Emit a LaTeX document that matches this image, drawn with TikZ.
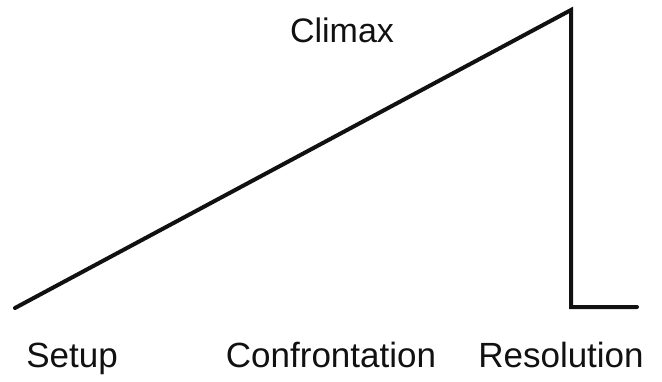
\documentclass[tikz,border=0pt]{standalone}
\usepackage{fontspec}
\setmainfont{Liberation Sans}
\usepackage{xcolor}
\definecolor{ink}{HTML}{111111}

\begin{document}
\begin{tikzpicture}[x=1pt,y=-1pt,
    arcline/.style={ink,line width=4pt,line cap=round,line join=miter},
    stage/.style={anchor=base,font=\fontsize{35}{39}\selectfont,text=ink,inner sep=0pt}]
        \useasboundingbox (0,0) rectangle (662,381);

        % story arc
        \coordinate (start) at (15,308);
        \coordinate (peak) at (571,10);
        \coordinate (drop) at (571,307);
        \coordinate (tail) at (637,307);
        \draw[arcline] (start) -- (peak) -- (drop) -- (tail);

        % labels
        \node[stage,font=\fontsize{34}{38}\selectfont] (climax) at (342,42) {Climax};
        \node[stage] (setup) at (72,367) {Setup};
        \node[stage] (confront) at (331,367) {Confrontation};
        \node[stage] (resol) at (561,367) {Resolution};
      \end{tikzpicture}
\end{document}
